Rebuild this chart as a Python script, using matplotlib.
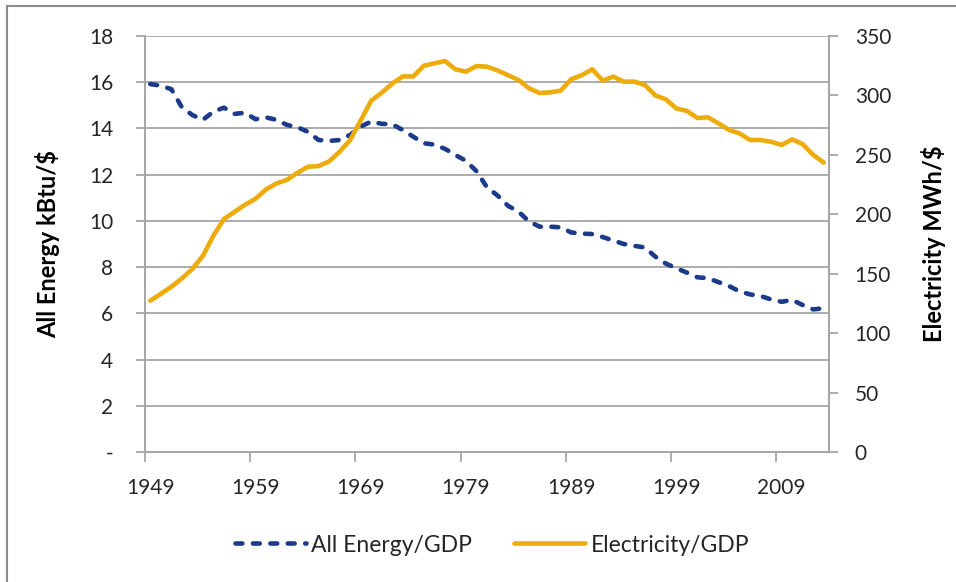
import matplotlib
matplotlib.use("Agg")
import matplotlib.pyplot as plt
from matplotlib.patches import Rectangle

years = list(range(1949, 2014))

all_energy = [15.92, 15.85, 15.70, 14.92, 14.58, 14.37, 14.73, 14.90, 14.63, 14.68,
              14.40, 14.48, 14.37, 14.15, 14.05, 13.85, 13.50, 13.46, 13.50, 13.72,
              14.08, 14.30, 14.20, 14.18, 13.93, 13.64, 13.36, 13.30, 13.12, 12.85,
              12.60, 12.15, 11.45, 11.10, 10.65, 10.40, 9.97, 9.75, 9.75, 9.72,
              9.50, 9.45, 9.43, 9.30, 9.15, 9.00, 8.92, 8.85, 8.45, 8.15,
              7.95, 7.76, 7.56, 7.52, 7.35, 7.18, 6.95, 6.82, 6.75, 6.60,
              6.50, 6.58, 6.36, 6.17, 6.22]

electricity = [127.3, 133.0, 139.0, 146.0, 154.0, 165.0, 182.0, 196.0, 202.0, 208.0,
               213.0, 221.0, 226.0, 229.0, 235.0, 240.0, 240.6, 244.5, 252.7, 262.5,
               279.0, 295.6, 302.3, 310.0, 316.0, 316.0, 325.0, 327.0, 329.0, 322.0,
               320.0, 324.7, 324.2, 321.0, 317.0, 313.0, 306.0, 302.0, 302.6, 304.0,
               313.6, 317.0, 322.0, 312.5, 315.8, 311.6, 311.6, 308.8, 300.0, 296.7,
               289.0, 287.0, 281.0, 281.6, 276.5, 271.0, 268.0, 262.5, 262.5, 261.0,
               258.3, 263.0, 259.0, 250.0, 243.5]

left_ticks = [0, 2, 4, 6, 8, 10, 12, 14, 16, 18]
left_labels = ["-", "2", "4", "6", "8", "10", "12", "14", "16", "18"]
right_ticks = [0, 50, 100, 150, 200, 250, 300, 350]
x_label_years = [1949, 1959, 1969, 1979, 1989, 1999, 2009]

series_names = ["All Energy/GDP", "Electricity/GDP"]
left_title = "All Energy kBtu/$"
right_title = "Electricity MWh/$"

BLUE = "#1b3a8a"
GOLD = "#eeab0c"
GRID = "#a6a6a6"
TXT = "#262626"

plt.rcParams['font.family'] = ['Lato', 'DejaVu Sans']

W, H = 956, 582
fig = plt.figure(figsize=(W / 100, H / 100), dpi=100)
fig.patch.set_facecolor("white")

# outer chart border (only left/top visible in the crop)
fig.patches.append(Rectangle((7 / W, -0.05), 1.2, 1 - 6 / H + 0.05, transform=fig.transFigure,
                             fill=False, edgecolor="#8c8c8c", linewidth=1.5, zorder=0))

L, R, T, B = 145, 829, 36, 452
ax = fig.add_axes([L / W, 1 - B / H, (R - L) / W, (B - T) / H])
ax2 = ax.twinx()

ax.set_xlim(1948.5, 2013.5)
ax.set_ylim(0, 18)
ax2.set_ylim(0, 350)

for a in (ax, ax2):
    a.set_facecolor("none")
    for s in a.spines.values():
        s.set_color(GRID)
        s.set_linewidth(1.3)
    a.spines["top"].set_visible(False)

TS = 15
ax.set_yticks(left_ticks)
ax.set_yticklabels(left_labels)
ax.yaxis.grid(True, color=GRID, linewidth=1.3)
ax.set_axisbelow(True)

ax.set_xticks([1948.5 + 10 * k for k in range(7)])
ax.set_xticklabels([])
ax.set_xticks(x_label_years, minor=True)
ax.set_xticklabels([str(y) for y in x_label_years], minor=True)
ax.tick_params(axis="x", which="major", length=7, width=1.3, color=GRID)
ax.tick_params(axis="x", which="minor", length=0, pad=19, labelsize=TS, labelcolor=TXT)
ax.tick_params(axis="y", length=6.5, width=1.3, color=GRID, pad=16.5, labelsize=TS, labelcolor=TXT)

ax2.set_yticks(right_ticks)
ax2.tick_params(axis="y", length=6.5, width=1.3, color=GRID, pad=12, labelsize=TS, labelcolor=TXT)

l1, = ax.plot(years, all_energy, color=BLUE, linewidth=3.3, dashes=(1.5, 2.3),
              dash_capstyle="round", solid_capstyle="round", zorder=3, label=series_names[0])
l2, = ax2.plot(years, electricity, color=GOLD, linewidth=3.3, solid_capstyle="round",
               zorder=3, label=series_names[1])

ax.set_ylabel(left_title, fontsize=17, fontweight="bold", color="black")
ax.yaxis.set_label_coords((60 - L) / (R - L), 0.5)
ax2.set_ylabel(right_title, fontsize=17, fontweight="bold", color="black", rotation=90)
ax2.yaxis.set_label_coords((921 - L) / (R - L), 0.5)

fig.legend(handles=[l1, l2], loc="center", bbox_to_anchor=(492 / W, 1 - 545 / H),
           ncol=2, frameon=False, fontsize=16.5, handlelength=3.1, handletextpad=0.22,
           columnspacing=1.85, labelcolor=TXT)

fig.savefig("out.png", dpi=100, facecolor="white")
